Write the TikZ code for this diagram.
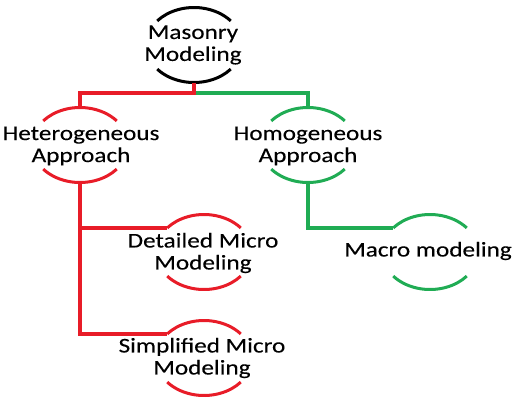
\documentclass[tikz,border=0pt]{standalone}
\usepackage{fontspec}
\setmainfont{Carlito}[FakeStretch=1.2,FakeBold=0.2]
\usetikzlibrary{shapes.geometric}
\definecolor{lred}{RGB}{232,28,40}
\definecolor{lgreen}{RGB}{32,172,84}
\newcommand\caparcs[2]{%
  \draw[arcline,#2] ([shift={(220:48 and 37.5)}]#1.center) arc[start angle=220,end angle=320,x radius=48,y radius=37.5];
  \draw[arcline,#2] ([shift={(40:48 and 37.5)}]#1.center) arc[start angle=40,end angle=140,x radius=48,y radius=37.5];}
\begin{document}
\begin{tikzpicture}[x=1pt,y=-1pt,
  holder/.style={shape=ellipse,minimum width=96pt,minimum height=75pt,inner sep=0pt},
  lbl/.style={align=center,font=\fontsize{21}{22}\selectfont,inner sep=0pt,text=black},
  arcline/.style={line width=3pt},
  conn/.style={line width=3.2pt}]
\useasboundingbox (0,0) rectangle (516,400);
% holders
\node[holder] (m) at (194,45) {};
\node[holder] (h) at (80,145) {};
\node[holder] (o) at (308,145) {};
\node[holder] (d) at (204,252) {};
\node[holder] (s) at (204,358) {};
\node[holder] (c) at (430,252) {};
% labels
\node[lbl] (mt) at (193,45) {Masonry\\Modeling};
\node[lbl] (ht) at (81,146) {Heterogeneous\\Approach};
\node[lbl] (ot) at (308,146) {Homogeneous\\Approach};
\node[lbl] (dt) at (203,253) {Detailed Micro\\Modeling};
\node[lbl] (st) at (202,358) {Simplified Micro\\Modeling};
\node[lbl] (ct) at (428,251) {Macro modeling};
% arcs
\caparcs{m}{black}
\caparcs{h}{lred}
\caparcs{o}{lgreen}
\caparcs{d}{lred}
\caparcs{s}{lred}
\caparcs{c}{lgreen}
% connectors
\coordinate (j) at (194,93);
\coordinate (dl) at ([shift={(220:48 and 37.5)}]d.center);
\coordinate (sl) at ([shift={(220:48 and 37.5)}]s.center);
\coordinate (cl) at ([shift={(220:48 and 37.5)}]c.center);
\draw[conn,lgreen] (j) -| (o.north);
\draw[conn,lred] (m.south) -- (j) -| (h.north);
\draw[conn,lred] (h.south) |- (dl);
\draw[conn,lred] (h.south) |- (sl);
\draw[conn,lgreen] (o.south) |- (cl);
\end{tikzpicture}
\end{document}
